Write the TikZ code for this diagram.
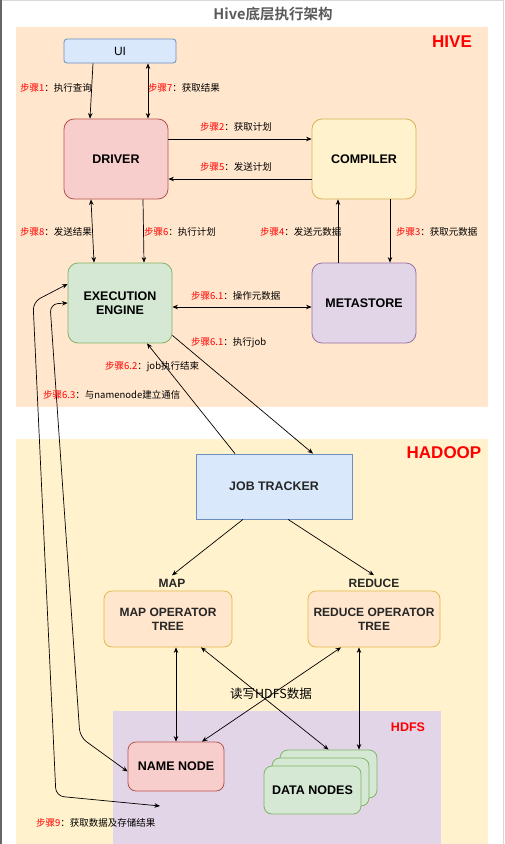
\documentclass[tikz,border=0pt]{standalone}
\usepackage{fontspec}
\setmainfont{Liberation Sans}
\newfontfamily\cjk{Noto Sans CJK SC}[BoldFont={Noto Sans CJK SC Bold}]
\usetikzlibrary{arrows.meta}
\definecolor{hivebg}{HTML}{FFE6CC}
\definecolor{hadoopbg}{HTML}{FFF2CC}
\definecolor{hdfsbg}{HTML}{E1D5E7}
\definecolor{bluefill}{HTML}{DAE8FC}
\definecolor{bluedraw}{HTML}{6C8EBF}
\definecolor{redfill}{HTML}{F8CECC}
\definecolor{reddraw}{HTML}{B85450}
\definecolor{yelfill}{HTML}{FFF2CC}
\definecolor{yeldraw}{HTML}{D6B656}
\definecolor{grnfill}{HTML}{D5E8D4}
\definecolor{grndraw}{HTML}{82B366}
\definecolor{purfill}{HTML}{E1D5E7}
\definecolor{purdraw}{HTML}{9673A6}
\definecolor{orgfill}{HTML}{FFE6CC}
\definecolor{orgdraw}{HTML}{D79B00}
\definecolor{titlegray}{HTML}{5A5A5A}
\newcommand{\buzhou}[2]{\textcolor{red}{步骤#1}：#2}
\tikzset{
	box/.style={draw, line width=0.8pt, rounded corners=10pt, align=center,
		font=\fontsize{12.5}{14}\selectfont\bfseries},
	plainbox/.style={box, font=\fontsize{12}{14}\selectfont},
	midbox/.style={box, font=\fontsize{12}{14}\selectfont\bfseries, text=black!85},
	steplabel/.style={inner sep=0pt, anchor=west, font=\cjk\fontsize{9.5}{11}\selectfont},
	arealabel/.style={text=red, font=\fontsize{17}{20}\selectfont\bfseries},
	arr/.style={line width=0.7pt, -{Stealth[length=5.5pt,width=4.5pt]}},
	darr/.style={line width=0.7pt, {Stealth[length=5.5pt,width=4.5pt]}-{Stealth[length=5.5pt,width=4.5pt]}}
}

\begin{document}
\begin{tikzpicture}[x=1pt,y=-1pt]
		\useasboundingbox (0,0) rectangle (504,844);
		% frame and areas
		\draw[gray!30, line width=1pt] (0,0.5) -- (503.5,0.5) -- (503.5,844);
		\draw[gray!80!black, line width=1.5pt] (1,0) -- (1,844);
		\fill[hivebg] (16,27) rectangle (488,407);
		\fill[hadoopbg] (16,439) rectangle (488,844);
		\fill[hdfsbg] (113,711) rectangle (441,844);
		\node[text=titlegray, font=\cjk\fontsize{14.5}{16}\selectfont\bfseries] (title) at (273,14) {Hive底层执行架构};
		\node[arealabel] (hivelbl) at (452,42) {HIVE};
		\node[arealabel] (hadooplbl) at (444,453) {HADOOP};
		\node[arealabel, font=\fontsize{12.5}{14}\selectfont\bfseries] (hdfslbl) at (408,727) {HDFS};
		
		% hive nodes
		\node[plainbox, rounded corners=3pt, fill=bluefill, draw=bluedraw, minimum width=112pt, minimum height=24pt] (ui) at (120,51) {UI};
		\node[box, fill=redfill, draw=reddraw, minimum width=104pt, minimum height=80pt] (driver) at (116,159) {DRIVER};
		\node[box, fill=yelfill, draw=yeldraw, minimum width=104pt, minimum height=80pt] (compiler) at (364,159) {COMPILER};
		\node[box, fill=grnfill, draw=grndraw, minimum width=104pt, minimum height=80pt] (exec) at (120,303) {EXECUTION\\ENGINE};
		\node[box, fill=purfill, draw=purdraw, minimum width=104pt, minimum height=80pt] (meta) at (364,303) {METASTORE};
		
		% hadoop nodes
		\node[midbox, rounded corners=0pt, fill=bluefill, draw=bluedraw, minimum width=156pt, minimum height=65pt, font=\fontsize{12.4}{15}\selectfont\bfseries] (jobtracker) at (274,486.5) {JOB TRACKER};
		\node[text=black!85, font=\fontsize{12}{14}\selectfont\bfseries] (maplbl) at (172,583) {MAP};
		\node[text=black!85, font=\fontsize{12}{14}\selectfont\bfseries] (redlbl) at (374,583) {REDUCE};
		\node[midbox, rounded corners=8pt, fill=orgfill, draw=orgdraw!70, minimum width=128pt, minimum height=56pt] (mapt) at (168,619) {MAP OPERATOR\\TREE};
		\node[midbox, rounded corners=8pt, fill=orgfill, draw=orgdraw!70, minimum width=132pt, minimum height=56pt] (redt) at (374,619) {REDUCE OPERATOR\\TREE};
		\node[box, rounded corners=8pt, fill=redfill, draw=reddraw, minimum width=96pt, minimum height=49pt] (namenode) at (176,766.5) {NAME NODE};
		\node[box, rounded corners=8pt, fill=grnfill, draw=grndraw, minimum width=97pt, minimum height=48pt] (dn3) at (328.5,774) {};
		\node[box, rounded corners=8pt, fill=grnfill, draw=grndraw, minimum width=97pt, minimum height=48pt] (dn2) at (320.5,782) {};
		\node[box, rounded corners=8pt, fill=grnfill, draw=grndraw, minimum width=97pt, minimum height=48pt] (dn1) at (312.5,790) {DATA NODES};
		\node[font=\cjk\fontsize{12.5}{14}\selectfont] (rwlbl) at (271,694) {读写HDFS数据};
		
		% hive connectors
		\path [arr] ([xshift=-27pt]ui.south) edge ([xshift=-26pt]driver.north);
		\path [darr] ([xshift=28pt]ui.south) edge ([xshift=32pt]driver.north);
		\path [arr] ([yshift=20pt]driver.east) edge ([yshift=20pt]compiler.west);
		\path [arr] ([yshift=-20pt]compiler.west) edge ([yshift=-20pt]driver.east);
		\path [darr] ([xshift=-25pt]driver.south) edge ([xshift=-26pt]exec.north);
		\path [arr] ([xshift=27pt]driver.south) edge ([xshift=24pt]exec.north);
		\path [arr] ([xshift=-26pt]meta.north) edge ([xshift=-26pt]compiler.south);
		\path [arr] ([xshift=26pt]compiler.south) edge ([xshift=26pt]meta.north);
		\path [darr] ([yshift=-4pt]exec.east) edge ([yshift=-4pt]meta.west);
		\path [arr] ([yshift=8pt]exec.south east) edge ([xshift=39pt]jobtracker.north);
		\path [arr] ([xshift=-39pt]jobtracker.north) edge ([xshift=27pt]exec.south);
		
		% exec to hdfs
		\coordinate (storeend) at (160,806);
		\draw [darr, rounded corners=8pt] ([yshift=19pt]exec.west) -- (33,302) -- (56,796) -- (storeend);
		\draw [darr, rounded corners=8pt] ([yshift=0pt]exec.west) -- (50,304) -- (80,737) -- ([yshift=-5pt]namenode.west);
		
		% hadoop connectors
		\path [arr] ([xshift=-31pt]jobtracker.south) edge (maplbl.north);
		\path [arr] ([xshift=14pt]jobtracker.south) edge (redlbl.north);
		\path [darr] ([xshift=8pt]mapt.south) edge (namenode.north);
		\path [darr] ([xshift=33pt]mapt.south) edge (dn3.north);
		\path [darr] ([xshift=-33pt]redt.south) edge ([xshift=26pt]namenode.north);
		\path [darr] ([xshift=-15pt]redt.south) edge ([xshift=30.5pt]dn3.north);
		
		% step labels
		\node[steplabel] (s1) at (20,88) {\buzhou{1}{执行查询}};
		\node[steplabel] (s7) at (148,88) {\buzhou{7}{获取结果}};
		\node[steplabel, anchor=center] (s2) at (236,127) {\buzhou{2}{获取计划}};
		\node[steplabel, anchor=center] (s5) at (236,167) {\buzhou{5}{发送计划}};
		\node[steplabel] (s8) at (20,232) {\buzhou{8}{发送结果}};
		\node[steplabel] (s6) at (144,232) {\buzhou{6}{执行计划}};
		\node[steplabel] (s4) at (260,232) {\buzhou{4}{发送元数据}};
		\node[steplabel] (s3) at (396,232) {\buzhou{3}{获取元数据}};
		\node[steplabel] (s61) at (191,296) {\buzhou{6.1}{操作元数据}};
		\node[steplabel] (s61b) at (191,343) {\buzhou{6.1}{执行job}};
		\node[steplabel] (s62) at (105,367) {\buzhou{6.2}{job执行结束}};
		\node[steplabel] (s63) at (43,395) {\buzhou{6.3}{与namenode建立通信}};
		\node[steplabel] (s9) at (36,823) {\buzhou{9}{获取数据及存储结果}};
\end{tikzpicture}
\end{document}
